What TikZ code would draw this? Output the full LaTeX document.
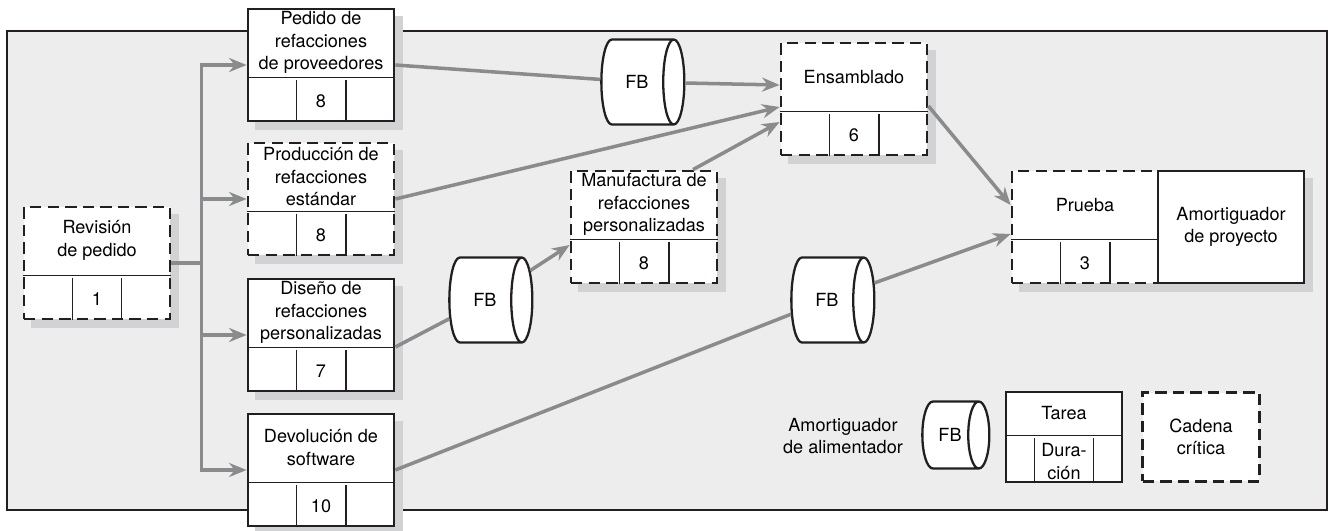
\documentclass[tikz,border=0pt]{standalone}
\usepackage{fontspec}
\setmainfont{TeX Gyre Heros}
\usetikzlibrary{shapes.geometric,calc,arrows.meta}

\definecolor{fondo}{HTML}{EDEDED}
\definecolor{sombra}{HTML}{D1D2D4}
\definecolor{flujo}{HTML}{8A8B8D}
\definecolor{trazo}{HTML}{231F20}

\pgfdeclarelayer{marco}
\pgfdeclarelayer{sombras}
\pgfsetlayers{marco,sombras,main}

\tikzset{
  texto/.style={font=\fontsize{10.3}{12.8}\selectfont, align=center, inner sep=0pt},
  caja/.style={draw=trazo, line width=1.6pt, fill=white, inner sep=0pt,
    minimum width=2.92cm, minimum height=2.24cm},
  critica/.style={dash pattern=on 6.5pt off 3.5pt},
  normal/.style={solid},
  division/.style={draw=trazo, line width=0.8pt},
  buffer/.style={cylinder, draw=trazo, line width=1.3pt, fill=white, aspect=1.6,
    minimum width=1.7cm, minimum height=1.66cm, texto},
  flecha/.style={draw=flujo, line width=2pt, -{Stealth[length=10pt,width=8pt]}},
  enlace/.style={draw=flujo, line width=2pt},
}

% task box: name, position, line style, label, duration
\newcommand{\tarea}[5]{%
  \node[caja, #3] (#1) at (#2) {};
  \begin{pgfonlayer}{sombras}
    \fill[sombra] ($(#1.north west)+(8,8)$) rectangle ($(#1.south east)+(8,8)$);
  \end{pgfonlayer}
  \draw[division] ($(#1.north west)+(0,70)$) -- ($(#1.north east)+(0,70)$);
  \draw[division] ($(#1.south west)!1/3!(#1.south east)$) -- ++(0,-42);
  \draw[division] ($(#1.south west)!2/3!(#1.south east)$) -- ++(0,-42);
  \node[texto] (#1-t) at ($(#1.north)+(0,35)$) {#4};
  \node[texto] (#1-d) at ($(#1.south)+(0,-21)$) {#5};
}

\begin{document}
\begin{tikzpicture}[x=0.02cm, y=-0.02cm]
  \useasboundingbox (0,0) rectangle (1333,531);
  % frame
  \begin{pgfonlayer}{marco}
    \draw[fill=fondo, draw=trazo, line width=1.6pt] (7,31) rectangle (1327,510);
  \end{pgfonlayer}

  % tasks
  \tarea{rev}{97,263}{critica}{Revisión\\de pedido}{1}
  \tarea{ped}{321,65}{normal}{Pedido de\\refacciones\\de proveedores}{8}
  \tarea{pro}{321,199}{critica}{Producción de\\refacciones\\estándar}{8}
  \tarea{dis}{321,335}{normal}{Diseño de\\refacciones\\personalizadas}{7}
  \tarea{dev}{321,470}{normal}{Devolución de\\software}{10}
  \tarea{man}{644,227}{critica}{Manufactura de\\refacciones\\personalizadas}{8}
  \tarea{ens}{854,99}{critica}{Ensamblado}{6}
  \tarea{pru}{1085,227}{critica}{Prueba}{3}
  \node[caja, texto] (proy) at (1231,227) {Amortiguador\\de proyecto};
  \begin{pgfonlayer}{sombras}
    \fill[sombra] ($(proy.north west)+(8,8)$) rectangle ($(proy.south east)+(8,8)$);
  \end{pgfonlayer}

  % feeding buffers
  \node[buffer] (fb1) at (637,82) {FB};
  \node[buffer] (fb2) at (485,300) {FB};
  \node[buffer] (fb3) at (827,300) {FB};

  % branches after the review
  \coordinate (tronco) at ($(rev.east)+(30,0)$);
  \foreach \n in {ped,pro,dis,dev}
    \draw[flecha] (rev.east) -- (tronco) |- (\n.west);

  % links
  \draw[enlace] (ped.east) -- (fb1);
  \draw[flecha] (fb1) -- ($(ens.west)+(0,-14)$);
  \draw[flecha] (pro.east) -- ($(ens.west)+(0,8)$);
  \draw[flecha] ($(man.north)+(49,0)$) -- ($(ens.west)+(0,23)$);
  \draw[enlace] ($(dis.east)+(0,12)$) -- (fb2);
  \draw[flecha] (fb2) -- ($(man.west)+(0,18)$);
  \draw[enlace] (dev.east) -- (fb3);
  \draw[flecha] (fb3) -- ($(pru.west)+(0,7)$);
  \draw[flecha] ($(ens.east)+(0,7)$) -- ($(pru.west)+(0,-22)$);

  % legend
  \node[texto] (ley-txt) at (843,436) {Amortiguador\\de alimentador};
  \node[buffer, minimum width=1.34cm, minimum height=1.34cm] (ley-fb) at (950,435) {FB};
  \node[draw=trazo, line width=1.6pt, fill=white, minimum width=2.32cm,
    minimum height=1.8cm] (ley-tarea) at (1064,437) {};
  \draw[division] ($(ley-tarea.north west)+(0,45)$) -- ($(ley-tarea.north east)+(0,45)$);
  \draw[division] ($(ley-tarea.south west)+(30,0)$) -- ++(0,-45);
  \draw[division] ($(ley-tarea.south east)+(-30,0)$) -- ++(0,-45);
  \node[texto] (ley-tarea-t) at ($(ley-tarea.north)+(0,22)$) {Tarea};
  \node[texto] (ley-tarea-d) at ($(ley-tarea.south)+(0,-22)$) {Dura-\\ción};
  \node[draw=trazo, line width=1.6pt, fill=white, critica, texto, minimum width=2.34cm,
    minimum height=1.78cm] (ley-critica) at (1201,437) {Cadena\\crítica};
\end{tikzpicture}
\end{document}
